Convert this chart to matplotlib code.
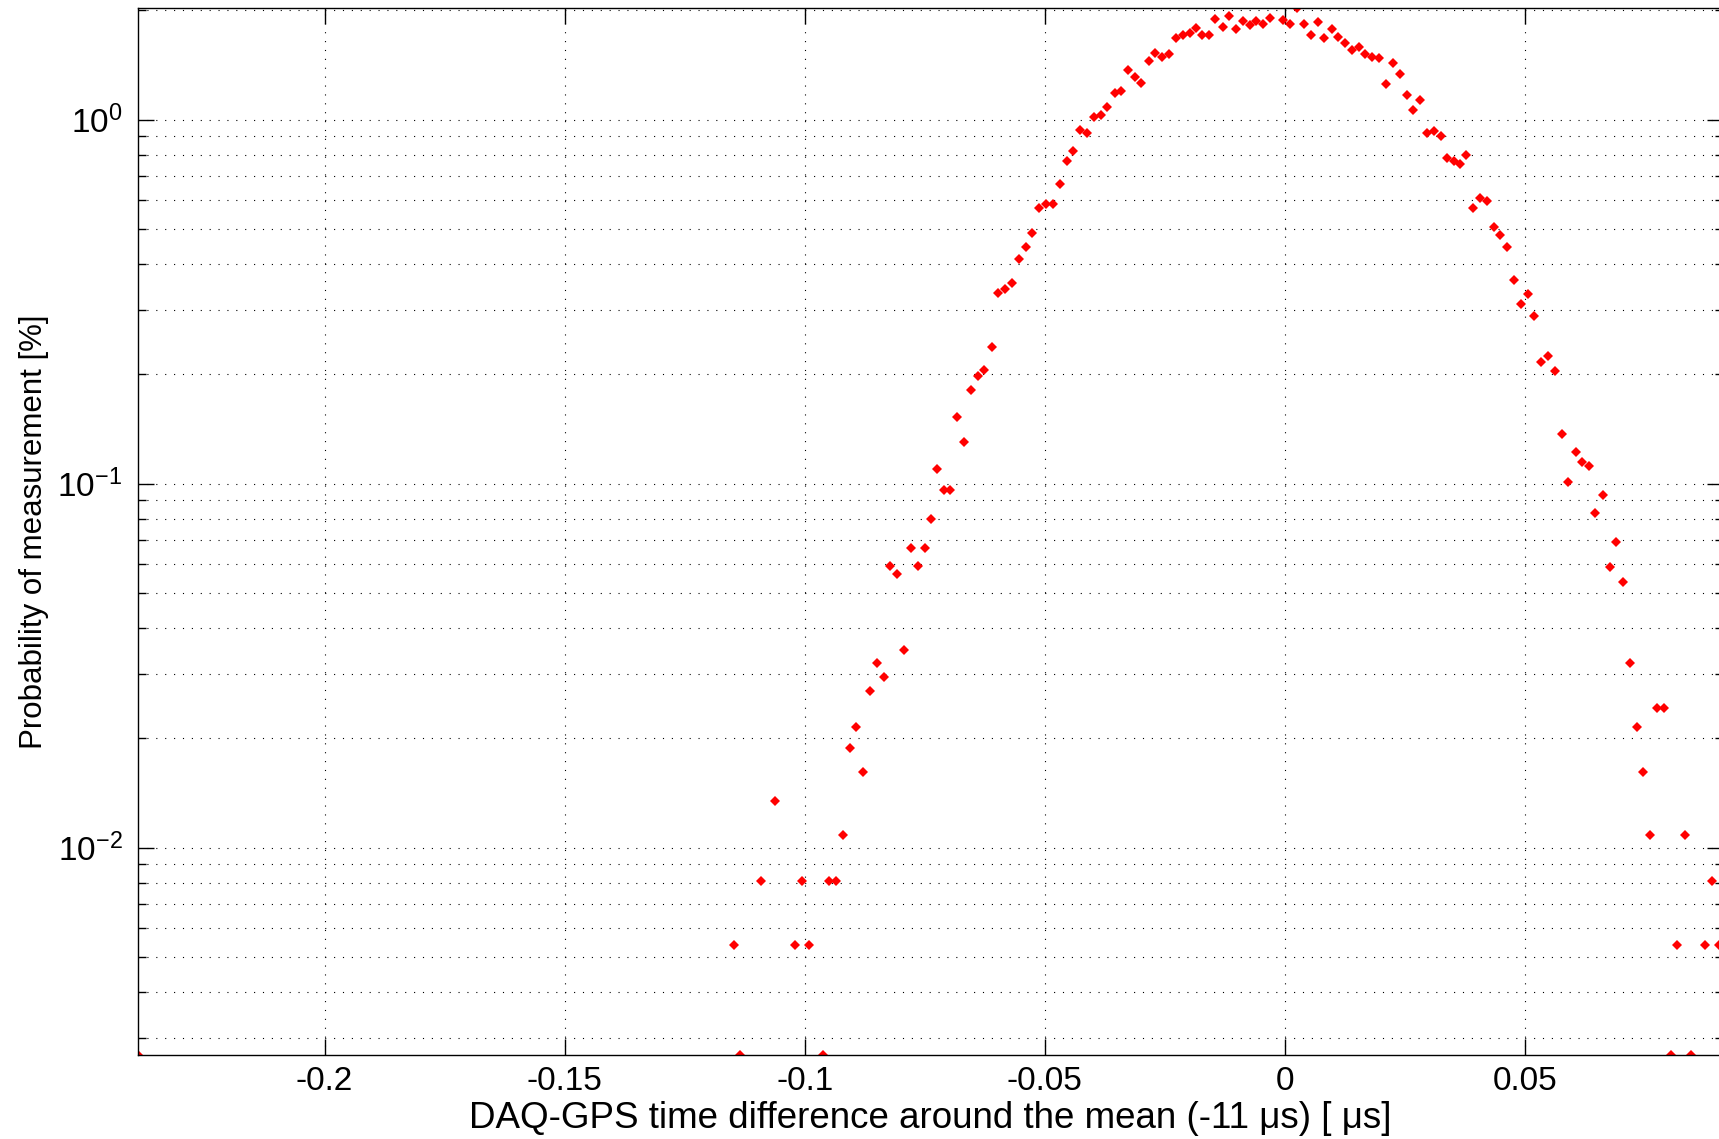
import matplotlib
matplotlib.use('agg')
import matplotlib.pyplot as plt

plt.rcParams['font.family'] = ['Liberation Sans', 'DejaVu Sans']
plt.rcParams['mathtext.fontset'] = 'custom'
plt.rcParams['mathtext.rm'] = 'Liberation Sans'
plt.rcParams['mathtext.it'] = 'Liberation Sans:italic'

# time difference around the mean [us] and probability [%]
time_diff = [
    -0.2389,
    -0.1148, -0.1134, -0.1091, -0.1062, -0.1020, -0.1005, -0.0992, -0.0963,
    -0.0950, -0.0935, -0.0920, -0.0906, -0.0893, -0.0878, -0.0864, -0.0850,
    -0.0835, -0.0822, -0.0807, -0.0793, -0.0779, -0.0764, -0.0749, -0.0737,
    -0.0725, -0.0711, -0.0697, -0.0683, -0.0668, -0.0654, -0.0640, -0.0626,
    -0.0611, -0.0598, -0.0583, -0.0569, -0.0554, -0.0540, -0.0526, -0.0512,
    -0.0498, -0.0483, -0.0469, -0.0455, -0.0441, -0.0427, -0.0412, -0.0398,
    -0.0384, -0.0370, -0.0355, -0.0341, -0.0327, -0.0313, -0.0299, -0.0284,
    -0.0270, -0.0256, -0.0242, -0.0227, -0.0213, -0.0199, -0.0185, -0.0173,
    -0.0159, -0.0145, -0.0130, -0.0117, -0.0103, -0.0088, -0.0074, -0.0060,
    -0.0046, -0.0032, -0.0004, 0.0011, 0.0025, 0.0040, 0.0053, 0.0068,
    0.0082, 0.0097, 0.0110, 0.0125, 0.0139, 0.0154, 0.0167, 0.0182,
    0.0196, 0.0210, 0.0224, 0.0239, 0.0253, 0.0267, 0.0281, 0.0296,
    0.0310, 0.0324, 0.0338, 0.0352, 0.0364, 0.0377, 0.0392, 0.0405,
    0.0420, 0.0434, 0.0448, 0.0463, 0.0476, 0.0491, 0.0505, 0.0519,
    0.0533, 0.0548, 0.0562, 0.0576, 0.0590, 0.0605, 0.0619, 0.0633,
    0.0646, 0.0661, 0.0676, 0.0690, 0.0703, 0.0718, 0.0733, 0.0746,
    0.0760, 0.0775, 0.0790, 0.0803, 0.0817, 0.0832, 0.0846, 0.0874,
    0.0889, 0.0903,
]
prob = [
    0.00269,
    0.0054, 0.00269, 0.0081, 0.0134, 0.0054, 0.0081, 0.0054, 0.00269,
    0.0081, 0.0081, 0.0108, 0.0188, 0.0215, 0.0161, 0.0270, 0.0322,
    0.0295, 0.0593, 0.0566, 0.0350, 0.0667, 0.0593, 0.0667, 0.0800,
    0.1097, 0.0959, 0.0959, 0.152, 0.130, 0.1804, 0.1975, 0.205,
    0.2368, 0.334, 0.343, 0.356, 0.4145, 0.4462, 0.489, 0.570,
    0.586, 0.586, 0.665, 0.768, 0.818, 0.9386, 0.921, 1.017,
    1.028, 1.084, 1.187, 1.199, 1.373, 1.310, 1.264, 1.447,
    1.529, 1.488, 1.516, 1.674, 1.707, 1.735, 1.784, 1.707,
    1.707, 1.885, 1.80, 1.925, 1.78, 1.865, 1.818, 1.865,
    1.83, 1.90, 1.884, 1.834, 2.03, 1.834, 1.707, 1.853,
    1.674, 1.769, 1.692, 1.629, 1.558, 1.585, 1.516, 1.487,
    1.475, 1.254, 1.435, 1.336, 1.167, 1.065, 1.135, 0.921,
    0.931, 0.904, 0.7827, 0.770, 0.7535, 0.7978, 0.570, 0.6075,
    0.596, 0.5077, 0.4835, 0.4462, 0.362, 0.311, 0.3314, 0.2888,
    0.2163, 0.2246, 0.2034, 0.1365, 0.1011, 0.1223, 0.1147, 0.1116,
    0.0829, 0.0931, 0.0591, 0.0691, 0.0535, 0.0322, 0.0215, 0.0161,
    0.0108, 0.0242, 0.0242, 0.00269, 0.0054, 0.0108, 0.00269, 0.0054,
    0.0081, 0.0054,
]

xticks = [-0.2, -0.15, -0.1, -0.05, 0, 0.05]
xticklabels = ['-0.2', '-0.15', '-0.1', '-0.05', '0', '0.05']
yticks = [0.01, 0.1, 1]
yticklabels = [r'$10^{-2}$', r'$10^{-1}$', r'$10^{0}$']

fig = plt.figure(figsize=(17.19, 11.39), dpi=100)
ax = fig.add_axes([0.0801, 0.0737, 0.9220, 0.9195])

ax.plot(time_diff, prob, linestyle='none', marker='D', markersize=5,
        color='red', markeredgewidth=0)

ax.set_yscale('log')
ax.set_xlim(-0.2389, 0.0911)
ax.set_ylim(0.00269, 2.03)

ax.set_xticks(xticks, xticklabels)
ax.set_yticks(yticks, yticklabels)
ax.tick_params(axis='both', which='both', direction='in', top=True, right=True,
               labelsize=24, width=1.0)
ax.tick_params(axis='both', which='major', length=11.5)
ax.tick_params(axis='y', which='minor', length=6)
ax.tick_params(axis='x', which='major', pad=8)
ax.tick_params(axis='y', which='major', pad=11)
ax.yaxis.set_minor_formatter(plt.NullFormatter())

dots = (0, (1, 7))
ax.grid(True, which='major', axis='x', color='black', linestyle=dots, linewidth=0.8)
ax.grid(True, which='both', axis='y', color='black', linestyle=dots, linewidth=0.8)

for s in ax.spines.values():
    s.set_linewidth(1.0)

ax.set_xlabel('DAQ-GPS time difference around the mean (-11 μs) [ μs]', fontsize=26.5, labelpad=3)
ax.set_ylabel('Probability of measurement [%]', fontsize=22.5, labelpad=6)

fig.savefig('out.png', dpi=100)
